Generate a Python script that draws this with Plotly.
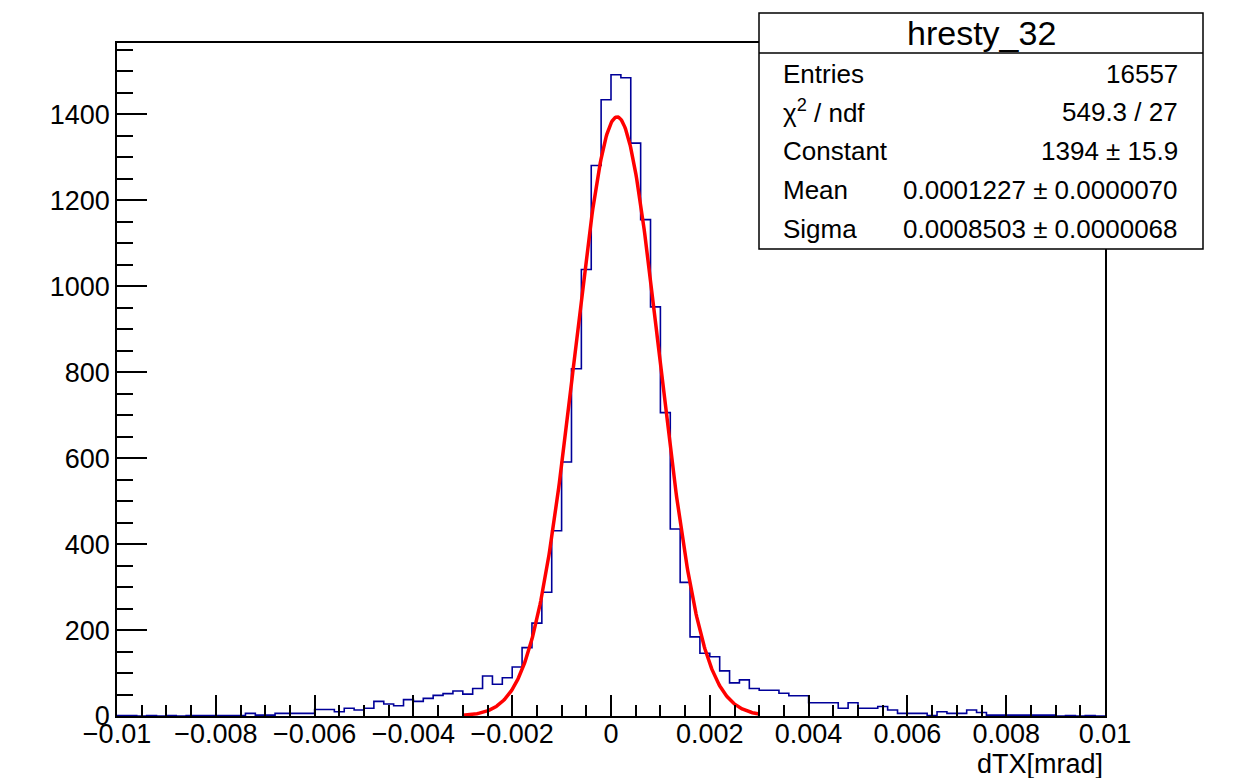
import numpy as np
import plotly.graph_objects as go

# ---------------- data ----------------
x_min = -0.01
x_max = 0.01
n_bins = 100

counts = [
    1, 1, 0, 1, 0, 1, 0, 1, 1, 1,
    1, 1, 1, 6, 2, 2, 6, 6, 6, 6,
    15, 15, 10, 18, 14, 18, 34, 28, 24, 38,
    34, 41, 48, 52, 58, 51, 64, 93, 74, 89,
    114, 159, 216, 288, 431, 591, 808, 1039, 1281, 1434,
    1492, 1485, 1333, 1155, 952, 706, 435, 311, 184, 146,
    138, 105, 77, 84, 64, 60, 60, 53, 47, 47,
    31, 31, 31, 18, 31, 18, 18, 22, 14, 6,
    6, 6, 1, 10, 6, 6, 14, 8, 2, 2,
    2, 2, 2, 2, 2, 0, 1, 0, 1, 0,
]

# Gaussian fit parameters (from the stats box)
fit_constant = 1394
fit_mean = 0.0001227
fit_sigma = 0.0008503
fit_range = [-0.003, 0.003]

stats_title = "hresty_32"
stats_labels = ["Entries", "χ<sup>2</sup> / ndf", "Constant", "Mean", "Sigma"]
stats_values = ["16557", "549.3 / 27", "1394 ± 15.9",
                "0.0001227 ± 0.0000070", "0.0008503 ± 0.0000068"]

x_tickvals = [-0.01, -0.008, -0.006, -0.004, -0.002, 0, 0.002, 0.004, 0.006, 0.008, 0.01]
x_ticktext = ["−0.01", "−0.008", "−0.006", "−0.004", "−0.002", "0",
              "0.002", "0.004", "0.006", "0.008", "0.01"]
y_tickvals = [0, 200, 400, 600, 800, 1000, 1200, 1400]
x_title = "dTX[mrad]"

# ---------------- geometry ----------------
W, H = 1240, 778
L, R, T, B = 117, 1105, 43, 716
y_top = 1566

def px_x(p):
    return (p - L) / (R - L)

def px_y(p):
    return (B - p) / (B - T)

edges = np.linspace(x_min, x_max, n_bins + 1)
hx = list(edges)
hy = list(counts) + [counts[-1]]

fx = np.linspace(fit_range[0], fit_range[1], 400)
fy = fit_constant * np.exp(-0.5 * ((fx - fit_mean) / fit_sigma) ** 2)

FONT = "Liberation Sans, Arial, Helvetica, sans-serif"
TICK_SIZE = 27
STAT_SIZE = 26

fig = go.Figure()
fig.add_trace(go.Scatter(x=hx, y=hy, mode="lines", line=dict(shape="hv", color="#000099", width=1.6),
                         hoverinfo="skip", showlegend=False))
fig.add_trace(go.Scatter(x=fx, y=fy, mode="lines", line=dict(color="#ff0000", width=3.5),
                         hoverinfo="skip", showlegend=False))

axis_common = dict(showgrid=False, zeroline=False, showline=True, linecolor="black", linewidth=1.5,
                   mirror=True, ticks="inside", tickcolor="black", tickwidth=1.5,
                   tickfont=dict(family=FONT, size=TICK_SIZE, color="black"))

fig.update_layout(
    width=W, height=H,
    margin=dict(l=L, r=W - R, t=T, b=H - B, pad=0),
    paper_bgcolor="white", plot_bgcolor="white",
    xaxis=dict(range=[x_min, x_max], tickvals=x_tickvals, ticktext=x_ticktext, ticklen=21,
               ticklabelstandoff=-7,
               minor=dict(dtick=0.0005, tick0=0, ticks="inside", ticklen=11, tickcolor="black", tickwidth=1.5),
               **axis_common),
    yaxis=dict(range=[0, y_top], tickvals=y_tickvals, ticklen=30,
               minor=dict(dtick=50, tick0=0, ticks="inside", ticklen=16, tickcolor="black", tickwidth=1.5),
               **axis_common),
    showlegend=False,
)

# x axis title (right-aligned under the axis)
fig.add_annotation(x=1, y=px_y(764), xref="paper", yref="paper", text=x_title, showarrow=False,
                   xanchor="right", yanchor="middle", font=dict(family=FONT, size=TICK_SIZE, color="black"))

# stats box
bx0, bx1, by0, by1, bsep = 759, 1203, 13, 249, 53
fig.add_shape(type="rect", xref="paper", yref="paper", x0=px_x(bx0), x1=px_x(bx1), y0=px_y(by1), y1=px_y(by0),
              line=dict(color="black", width=1.5), fillcolor="white", layer="above")
fig.add_shape(type="line", xref="paper", yref="paper", x0=px_x(bx0), x1=px_x(bx1), y0=px_y(bsep), y1=px_y(bsep),
              line=dict(color="black", width=1.5), layer="above")
fig.add_annotation(x=px_x((bx0 + bx1) / 2), y=px_y(33), xref="paper", yref="paper", text=stats_title,
                   showarrow=False, xanchor="center", yanchor="middle",
                   font=dict(family=FONT, size=34, color="black"))
row_y = [74, 112, 151, 190, 229]
for lab, val, ry in zip(stats_labels, stats_values, row_y):
    fig.add_annotation(x=px_x(781), y=px_y(ry), xref="paper", yref="paper", text=lab, showarrow=False,
                       xanchor="left", yanchor="middle", font=dict(family=FONT, size=STAT_SIZE, color="black"))
    fig.add_annotation(x=px_x(1180), y=px_y(ry), xref="paper", yref="paper", text=val, showarrow=False,
                       xanchor="right", yanchor="middle", font=dict(family=FONT, size=STAT_SIZE, color="black"))

fig.write_html("out.html", config={"displayModeBar": False},
               post_script="document.body.style.margin='0';document.body.style.overflow='hidden';")
